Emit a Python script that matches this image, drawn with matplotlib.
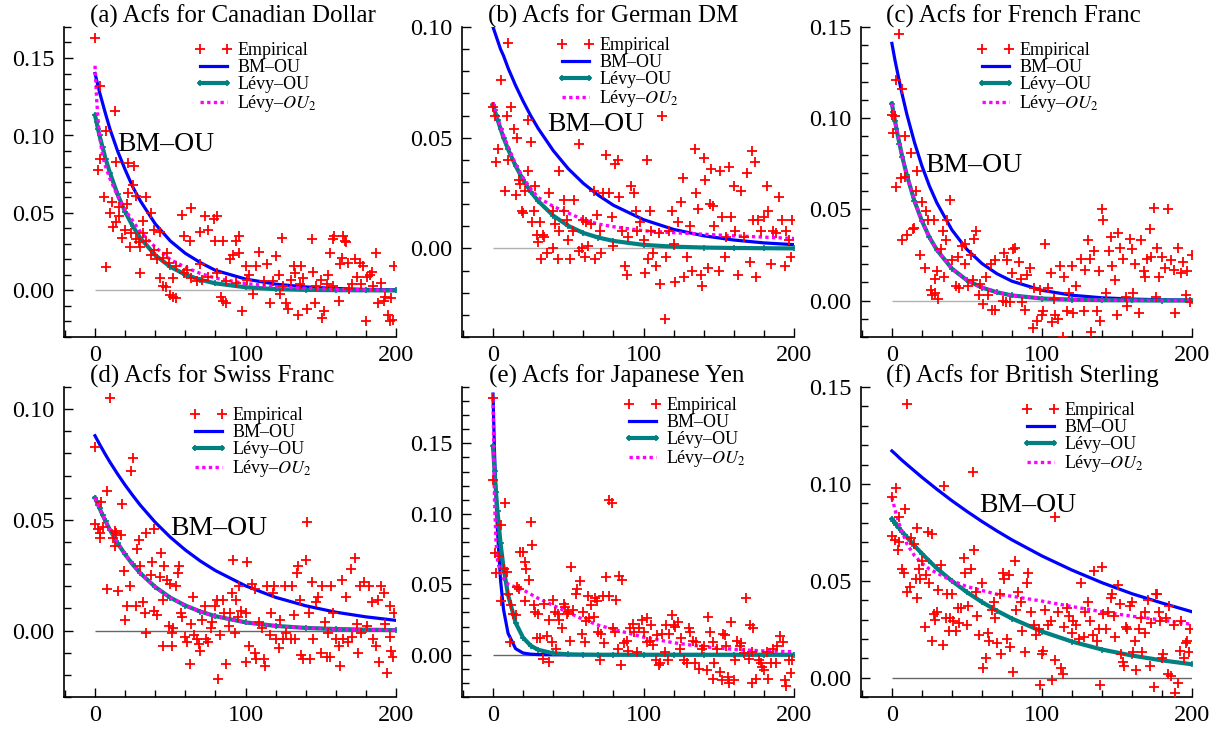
import matplotlib
matplotlib.use("Agg")
import matplotlib.pyplot as plt
from matplotlib.ticker import MultipleLocator, FormatStrFormatter

plt.rcParams["font.family"] = ["Liberation Serif", "DejaVu Serif"]
plt.rcParams["mathtext.fontset"] = "stix"

# ----------------------------
# data
# ----------------------------
TITLES = [
    "(a) Acfs for Canadian Dollar",
    "(b) Acfs for German DM",
    "(c) Acfs for French Franc",
    "(d) Acfs for Swiss Franc",
    "(e) Acfs for Japanese Yen",
    "(f) Acfs for British Sterling",
]
LEGEND_LABELS = ["Empirical", "BM\u2013OU", "L\u00e9vy\u2013OU", "L\u00e9vy\u2013$OU_2$"]

# lags at which the fitted curves were read
LAG_GRID = [0, 1, 2, 3, 5, 7, 10, 15, 20, 25, 30, 40, 50, 60, 70, 80, 100, 120, 140, 160, 180, 200]

# (a) Canadian Dollar
CAD_LAGS = [0, 3, 7, 13, 3, 2, 14, 22, 26, 25,
            22, 27, 34, 6, 11, 21, 10, 14, 12, 18,
            20, 37, 32, 39, 43, 27, 23, 30, 34, 37,
            41, 45, 48, 7, 30, 43, 45, 47, 50, 52,
            54, 52, 58, 59, 64, 63, 68, 70, 70, 73,
            75, 79, 81, 80, 85, 84, 85, 87, 90, 92,
            94, 96, 96, 98, 100, 102, 105, 107, 109, 114,
            116, 118, 120, 122, 123, 124, 127, 128, 130, 132,
            133, 135, 137, 138, 141, 144, 145, 146, 150, 151,
            152, 154, 155, 156, 158, 159, 162, 163, 164, 165,
            166, 167, 168, 171, 173, 174, 176, 177, 178, 180,
            181, 183, 184, 187, 188, 190, 192, 193, 195, 196,
            198, 199, 197,
            16, 16, 24, 29, 32, 39, 49, 54, 59, 61,
            64, 71, 75, 81, 87, 94, 101, 112, 125, 136,
            147, 158, 169, 185]
CAD_ACF = [.163, .132, .103, .116, .085, .078, .083, .082, .080, .068,
           .063, .061, .060, .060, .057, .056, .050, .044, .041, .034,
           .039, .050, .045, .039, .038, .033, .028, .028, .032, .023,
           .020, .021, .024, .015, .011, .008, .003, .002, -.003, -.004,
           -.005, .008, .049, .035, .053, .032, .006, .017, .038, .048,
           .039, .046, .048, .032, .032, -.004, -.007, -.008, .020, .023,
           .032, .035, .024, -.013, .016, .010, -.002, .016, .025, .017,
           -.008, .006, .022, .010, -.002, .034, -.008, -.012, .007, .016,
           .011, -.016, .016, .008, -.012, .033, .012, -.008, .007, -.018,
           -.013, .004, .010, .024, .033, .035, -.007, .017, .021, .035,
           .032, .031, .018, .004, .020, .009, .018, .004, .016, -.020,
           .009, .010, .012, .024, -.008, .005, -.007, -.004, -.016, -.020,
           -.019, .016, -.005,
           .054, .048, .037, .031, .037, .026, .018, .016, .011, .013,
           .008, .007, .009, .011, .006, .005, .007, .006, .003, .004,
           .003, .003, .001, .003]
CAD_BM = [.140, .136, .132, .128, .121, .114, .104, .090, .078, .067, .058,
          .043, .032, .024, .018, .013, .0074, .0041, .0023, .0013, .0007, .0004]
CAD_LEVY = [.113, .109, .104, .100, .0925, .085, .0757, .062, .0508, .0416, .034,
            .0228, .0153, .0103, .0069, .0046, .0021, .0009, .0004, .0002, .0001, 0.0]
CAD_LEVY2 = [.145, .125, .110, .100, .087, .080, .072, .061, .052, .045, .038,
             .028, .020, .015, .011, .008, .0045, .0025, .0014, .0008, .0004, .0002]

# (b) German DM
DEM_LAGS = [10, 5, 0, 1, 9, 12, 14, 16, 3, 2,
            10, 23, 25, 8, 15, 17, 18, 23, 21, 28,
            19, 20, 27, 26, 31, 29, 33, 34, 30, 32,
            36, 40, 43, 37, 44, 40, 41, 47, 47, 49,
            44, 50, 51, 54, 53, 57, 57, 59, 61, 60,
            62, 63, 65, 68, 67, 69, 71, 72, 73, 75,
            77, 79, 80, 81, 83, 84, 86, 88, 89, 90,
            92, 94, 95, 96, 98, 100, 101, 102, 103, 104,
            105, 106, 108, 110, 111, 112, 114, 115, 117, 119,
            120, 121, 123, 125, 126, 127, 129, 131, 132, 134,
            135, 136, 138, 139, 140, 141, 143, 144, 145, 146,
            147, 150, 151, 152, 154, 155, 157, 158, 160, 161,
            163, 165, 167, 169, 171, 172, 173, 174, 175, 176,
            178, 180, 182, 183, 185, 186, 188, 190, 192, 194,
            195, 197, 198, 199]
DEM_ACF = [.093, .076, .064, .060, .060, .064, .054, .050, .045, .039,
           .040, .058, .048, .026, .024, .031, .029, .035, .026, .028,
           .017, .016, .017, .012, .012, .006, .006, .005, .003, -.005,
           -.002, .000, -.005, .025, .035, .017, .011, .022, .017, .013,
           .008, .004, -.005, .022, .008, .047, -.001, .000, -.004, .013,
           .012, .001, .011, -.005, .026, .015, .008, -.002, .025, .042,
           .025, .014, .001, .038, .040, .023, .008, -.008, -.012, .005,
           .028, .025, .017, .008, .012, .004, -.011, .040, -.005, .017,
           .008, -.002, -.008, .007, -.016, .060, -.032, -.004, .008, .017,
           .002, -.015, .012, .021, .032, -.013, -.004, .010, -.010, .045,
           .025, .018, -.012, -.017, .041, .031, -.009, .020, .036, .019,
           .010, -.010, .035, .014, -.004, .005, .037, .014, .028, .008,
           -.012, .026, .005, .034, -.006, .044, .013, .039, -.013, .013,
           .008, .014, .028, .017, -.007, .008, .007, .023, .013, -.008,
           .008, .004, -.004, .013]
DEM_BM = [.100, .098, .096, .094, .090, .087, .0815, .0736, .0665, .060, .0542,
          .0442, .036, .0294, .024, .0195, .013, .0086, .0057, .0038, .0025, .0017]
DEM_LEVY = [.065, .0626, .0604, .0582, .054, .050, .0448, .0373, .031, .0257, .0214,
            .0148, .0102, .0070, .0049, .0034, .0016, .0008, .0004, .0002, .0001, 0.0]
DEM_LEVY2 = [.066, .063, .061, .059, .055, .051, .046, .038, .032, .027, .023,
             .019, .016, .013, .011, .0098, .0080, .0071, .0064, .0057, .0051, .0045]

# (c) French Franc
FRF_LAGS = [5, 3, 7, 0, 1, 2, 9, 13, 3, 6,
            9, 7, 10, 14, 15, 16, 17, 19, 20, 22,
            23, 24, 28, 26, 27, 29, 31, 29, 30, 33,
            34, 36, 37, 35, 39, 40, 43, 45, 44, 47,
            49, 49, 51, 53, 54, 55, 56, 58, 59, 61,
            63, 64, 66, 67, 69, 69, 74, 75, 76, 77,
            79, 80, 81, 82, 85, 86, 87, 89, 90, 92,
            94, 95, 97, 99, 100, 101, 102, 104, 106, 107,
            108, 109, 111, 112, 114, 115, 117, 118, 120, 121,
            123, 126, 128, 129, 131, 132, 133, 135, 137, 138,
            139, 140, 141, 143, 145, 146, 147, 149, 150, 151,
            152, 154, 156, 157, 159, 160, 161, 162, 165, 166,
            168, 169, 170, 172, 173, 175, 176, 177, 178, 180,
            182, 184, 186, 188, 189, 191, 193, 194, 196, 197,
            199, 200]
FRF_ACF = [.146, .121, .116, .102, .092, .101, .090, .081, .062, .067,
           .068, .033, .036, .039, .040, .060, .071, .025, .054, .018,
           .049, .044, .044, .006, .003, .004, .001, .012, .016, .028,
           .038, .033, .044, .013, .055, .022, .008, .007, .024, .030,
           .031, .020, .008, .025, .011, .034, .038, .003, .009, -.002,
           .013, .003, .020, -.005, -.005, .022, .000, .026, -.001, .022,
           -.001, .015, .028, .029, .021, .012, -.001, -.005, .014, .018,
           -.015, .007, -.011, .006, -.008, -.006, .031, .007, .015, -.012,
           .001, -.008, -.010, .019, -.020, .013, -.006, .004, .019, -.007,
           .008, .023, -.006, .017, .033, .023, -.017, .027, -.006, .016,
           -.011, .050, .044, .004, .027, .035, .019, .011, -.008, .037,
           .029, .023, .002, -.003, .034, .028, .004, .020, -.007, .033,
           .016, .013, .023, .039, .024, .051, .002, .029, .013, .024,
           .018, .050, .022, .017, -.007, .029, .015, .021, .003, .016,
           -.001, .025]
FRF_BM = [.141, .1365, .132, .128, .120, .1125, .102, .0868, .0738, .0628, .0535,
          .0387, .028, .0203, .0147, .0106, .0056, .0029, .0015, .0008, .0004, .0002]
FRF_LEVY = [.108, .1032, .0986, .0943, .0861, .0785, .0686, .0546, .0436, .0347, .0277,
            .0175, .0111, .0071, .0045, .0028, .0011, .0005, .0002, .0001, 0.0, 0.0]
FRF_LEVY2 = [.108, .1032, .0986, .0943, .0861, .0785, .0686, .0546, .0436, .0347, .0277,
             .0175, .0111, .0071, .0045, .0028, .0011, .0005, .0002, .0001, 0.0, 0.0]

# (d) Swiss Franc
CHF_LAGS = [0, 0, 2, 3, 3, 5, 4, 8, 10, 8,
            12, 13, 14, 13, 17, 15, 18, 19, 20, 21,
            23, 24, 25, 27, 28, 29, 30, 32, 33, 34,
            34, 37, 38, 39, 39, 41, 43, 44, 45, 45,
            46, 48, 49, 50, 51, 51, 52, 54, 55, 56,
            57, 58, 60, 61, 63, 64, 65, 66, 68, 69,
            70, 71, 73, 74, 75, 77, 78, 80, 81, 82,
            83, 85, 86, 87, 89, 90, 91, 92, 93, 94,
            95, 96, 97, 100, 100, 101, 102, 104, 106, 106,
            107, 109, 111, 112, 113, 114, 116, 117, 118, 119,
            120, 122, 123, 125, 126, 127, 130, 131, 132, 133,
            134, 135, 136, 137, 138, 140, 141, 142, 143, 144,
            145, 147, 148, 150, 151, 153, 154, 155, 156, 157,
            158, 160, 162, 163, 164, 165, 167, 168, 170, 171,
            173, 174, 175, 176, 177, 179, 181, 182, 184, 185,
            187, 188, 189, 190, 192, 193, 194, 196, 196, 197,
            198, 199]
CHF_ACF = [.083, .048, .046, .042, .044, .047, .058, .063, .105, .019,
           .042, .045, .044, .038, .043, .018, .057, .027, .005, .011,
           .020, .072, .078, .011, .037, .041, .029, .013, .008, -.001,
           .044, .025, .031, .046, .009, .007, .024, .035, .014, -.007,
           .029, .023, .002, .021, -.001, -.007, .001, .020, .026, .029,
           .008, .006, -.003, -.005, -.015, .003, .015, -.002, -.004, -.006,
           -.009, .005, .011, -.004, -.005, .001, .004, .011, .014, -.022,
           -.002, .014, .008, -.015, .002, .008, .017, .032, -.001, .014,
           .006, .020, .009, .008, -.014, .031, -.007, .021, .019, -.010,
           -.013, .004, .001, -.013, -.016, .020, -.002, .008, .017, .020,
           -.004, -.008, .005, -.004, .020, -.001, -.004, .020, .007, -.004,
           .026, .029, .014, -.011, -.013, .032, .049, .008, -.013, .022,
           -.004, .013, .015, -.010, .020, .004, -.012, -.001, -.012, .020,
           .008, -.004, -.007, -.016, .023, -.004, .015, -.005, .028, -.003,
           .033, .003, -.010, .020, -.001, .022, .002, .020, .013, -.004,
           -.007, .014, -.014, .020, .017, .003, -.019, -.003, .011, -.009,
           -.012, .008]
CHF_BM = [.088, .0867, .0855, .0842, .0818, .0794, .0760, .0707, .0657, .0611, .0567,
          .0489, .0422, .0364, .0314, .0271, .0202, .0150, .0112, .0083, .0062, .0046]
CHF_LEVY = [.060, .0584, .0568, .0553, .0522, .0494, .0454, .0395, .0344, .0299, .026,
            .0197, .0149, .0113, .0086, .0065, .0037, .0021, .0012, .0007, .0004, .0002]
CHF_LEVY2 = [.060, .0584, .0568, .0553, .0522, .0494, .0454, .0395, .0344, .0299, .026,
             .0197, .0149, .0113, .0086, .0065, .0037, .0021, .0012, .0007, .0004, .0002]

# (e) Japanese Yen
JPY_LAGS = [0, 0, 1, 2, 4, 5, 8, 5, 7, 9,
            10, 11, 12, 13, 15, 16, 17, 18, 20, 21,
            22, 24, 25, 26, 21, 27, 28, 29, 30, 31,
            33, 34, 36, 37, 37, 39, 40, 41, 42, 43,
            44, 46, 47, 48, 49, 50, 51, 52, 53, 55,
            56, 58, 59, 60, 61, 62, 63, 64, 65, 67,
            68, 69, 70, 71, 72, 73, 74, 75, 77, 77,
            79, 80, 81, 82, 83, 84, 85, 86, 87, 89,
            90, 91, 93, 94, 96, 97, 99, 100, 102, 102,
            104, 105, 106, 108, 109, 110, 111, 112, 114, 115,
            116, 117, 119, 120, 121, 123, 124, 125, 127, 129,
            130, 131, 133, 134, 135, 137, 139, 140, 142, 143,
            144, 146, 146, 147, 149, 151, 152, 153, 154, 155,
            156, 157, 158, 160, 161, 162, 164, 165, 167, 168,
            170, 171, 172, 173, 172, 175, 177, 178, 179, 180,
            182, 183, 185, 186, 188, 189, 191, 193, 194, 195,
            197, 198, 199]
JPY_ACF = [.182, .124, .072, .058, .070, .092, .108, .038, .061, .059,
           .043, .009, .035, .029, .028, .048, .047, .073, .073, .066,
           .061, .053, .094, .078, .038, .035, .030, .012, .029, .012,
           -.003, .036, .013, -.005, .025, .009, .039, .030, .004, .029,
           .025, .019, .036, .034, .029, .030, .010, .062, .032, .043,
           .047, .052, .015, .030, .009, .024, .042, .026, .035, .027,
           .040, .038, .016, -.004, .015, .042, .008, .055, .042, .110,
           .108, .019, .016, .039, .004, .056, -.007, .053, .008, .010,
           .003, .019, .022, .016, .002, .019, .025, .016, .026, .009,
           .010, .021, .007, -.004, .014, -.007, -.006, .015, .002, .021,
           -.004, .015, .028, .021, .020, .023, .004, .012, -.004, -.006,
           .019, .016, .010, -.006, .009, -.010, .004, .006, -.011, .027,
           .016, .009, -.017, -.006, .004, -.012, -.018, .015, .014, .006,
           -.016, -.020, .023, -.018, -.004, .010, .006, .008, .001, .040,
           -.003, .021, .002, .019, -.020, -.017, -.004, -.006, -.009, -.011,
           .002, -.017, -.006, .004, -.006, .006, .013, .009, -.018, -.022,
           -.004, -.013, -.004]
JPY_BM = [.185, .144, .112, .0874, .053, .0321, .0152, .0043, .0012, .0004, .0001,
          0.0, 0.0, 0.0, 0.0, 0.0, 0.0, 0.0, 0.0, 0.0, 0.0, 0.0]
JPY_LEVY = [.148, .1306, .1153, .1017, .0792, .0617, .0424, .0227, .0121, .0065, .0035,
            .0010, .0003, .0001, 0.0, 0.0, 0.0, 0.0, 0.0, 0.0, 0.0, 0.0]
JPY_LEVY2 = [.182, .110, .080, .067, .058, .054, .050, .048, .046, .043, .040,
             .035, .030, .025, .021, .018, .0125, .0085, .0057, .0038, .0027, .0021]

# (f) British Sterling
GBP_LAGS = [10, 0, 3, 0, 2, 4, 5, 5, 9, 7,
            8, 10, 12, 13, 15, 16, 17, 17, 18, 19,
            20, 22, 23, 24, 25, 27, 27, 28, 29, 30,
            31, 33, 34, 35, 36, 37, 38, 39, 40, 41,
            43, 44, 45, 46, 48, 49, 50, 51, 53, 54,
            55, 56, 57, 58, 60, 61, 63, 64, 65, 67,
            68, 69, 70, 72, 73, 74, 75, 77, 78, 79,
            81, 82, 83, 84, 86, 87, 89, 90, 91, 93,
            95, 96, 98, 99, 100, 101, 102, 104, 106, 107,
            109, 109, 111, 113, 114, 115, 117, 118, 120, 121,
            123, 125, 126, 128, 129, 131, 132, 134, 135, 137,
            138, 139, 140, 141, 143, 144, 146, 147, 148, 149,
            151, 152, 153, 154, 155, 156, 157, 159, 160, 161,
            162, 163, 165, 166, 167, 169, 169, 171, 172, 173,
            175, 176, 177, 178, 179, 180, 181, 183, 184, 185,
            186, 188, 189, 191, 192, 193, 195, 196, 197, 198,
            199]
GBP_ACF = [.141, .093, .098, .073, .071, .066, .070, .083, .087, .056,
           .054, .044, .047, .072, .069, .051, .041, .077, .056, .051,
           .060, .026, .053, .075, .049, .019, .074, .033, .030, .034,
           .045, .058, .017, .099, .031, .043, .024, .031, .043, .029,
           .024, .036, .028, .036, .062, .054, .027, .037, .056, .106,
           .066, .044, .032, .022, .049, .005, .010, .023, .019, .035,
           .039, .031, .018, .043, .012, .054, .051, .020, .053, .016,
           .003, .060, .035, .044, .039, .024, .013, .049, .054, .034,
           .027, .022, .025, -.004, .012, .014, .035, .027, .029, -.001,
           .009, .083, .034, .005, .002, .026, .036, .032, .023, .029,
           .027, .020, .049, .021, .034, .039, .029, .022, .055, .019,
           .025, -.004, .057, .033, .025, .034, .041, .043, .032, .021,
           .048, .038, .012, .008, .006, .026, .025, .037, .039, .013,
           .019, .004, .025, .031, .013, .023, .034, .040, .006, .028,
           -.005, .043, .043, .034, .029, .010, .012, .031, .002, .037,
           .001, .027, -.008, -.003, .014, .029, .010, .018, .019, .013,
           .025]
GBP_BM = [.117, .1163, .1156, .1149, .1134, .112, .110, .1067, .1034, .1003, .0972,
          .0913, .0858, .0806, .0757, .0711, .0628, .0555, .049, .0433, .0385, .034]
GBP_LEVY = [.082, .081, .080, .079, .077, .075, .0726, .0681, .064, .0601, .0564,
            .0499, .0441, .039, .0345, .0305, .0238, .0186, .0145, .0114, .0089, .0069]
GBP_LEVY2 = [.093, .090, .087, .084, .079, .075, .069, .063, .059, .056, .054,
             .050, .047, .045, .043, .042, .0395, .0367, .034, .0317, .0297, .0275]

# ----------------------------
# layout / style
# ----------------------------
W, H = 1221, 730
# axes boxes in pixels: left, top, right, bottom
AX_PX = [
    (64, 27, 396, 337), (462, 27, 794, 337), (861, 27, 1192, 337),
    (64, 387, 396, 697), (462, 387, 794, 697), (861, 387, 1192, 697),
]
YLIMS = [(-0.03, 0.17), (-0.04, 0.10), (-0.02, 0.15),
         (-0.03, 0.11), (-0.03, 0.19), (-0.01, 0.15)]
TITLE_PX = [(233, 23), (613, 23), (1013, 23), (212, 383), (617, 383), (1022, 383)]
LEGEND_PX = [(195, 42), (557, 37), (977, 42), (190, 407), (624, 397), (1022, 402)]
# where the "BM-OU" note sits (data coords), None = no note
NOTE_XY = [(15, 0.094), (36, 0.056), (22, 0.074), (50, 0.046), None, (58, 0.089)]
ZERO_COLOR = ["#b0b0b0", "#b0b0b0", "#b0b0b0", "#666666", "#666666", "#666666"]

C_EMP = "#ff0000"
C_BM = "#0000ff"
C_LEVY = "#008080"
C_LEVY2 = "#ff00ff"


def draw_panel(ax, lags, acf, bm, levy, levy2, ylim, zero_color, note_xy):
    ax.hlines(0.0, LAG_GRID[0], LAG_GRID[-1], color=zero_color, lw=1.0, zorder=1)
    ax.plot(lags, acf, ls="none", marker="+", ms=7, mew=1.3, color=C_EMP,
            label=LEGEND_LABELS[0], zorder=4)
    ax.plot(LAG_GRID, bm, color=C_BM, lw=2.3, label=LEGEND_LABELS[1], zorder=2)
    ax.plot(LAG_GRID, levy, color=C_LEVY, lw=3.0, marker="+", ms=4, mew=1.2,
            label=LEGEND_LABELS[2], zorder=2)
    ax.plot(LAG_GRID, levy2, color=C_LEVY2, lw=2.4, ls=(0, (1, 1)),
            label=LEGEND_LABELS[3], zorder=3)

    ax.set_xlim(-20.6, 200)
    ax.set_ylim(*ylim)
    ax.xaxis.set_major_locator(MultipleLocator(100))
    ax.xaxis.set_minor_locator(MultipleLocator(20))
    ax.yaxis.set_major_locator(MultipleLocator(0.05))
    ax.yaxis.set_minor_locator(MultipleLocator(0.01))
    ax.yaxis.set_major_formatter(FormatStrFormatter("%.2f"))

    for side in ("top", "right"):
        ax.spines[side].set_visible(False)
    for side in ("left", "bottom"):
        ax.spines[side].set_linewidth(1.2)
    ax.tick_params(which="both", direction="in", labelsize=17.5, width=1.0,
                   top=False, right=False)
    ax.tick_params(which="major", length=6.5)
    ax.tick_params(which="minor", length=5)
    ax.tick_params(axis="y", which="major", pad=7)
    ax.tick_params(axis="x", which="major", pad=5.5)

    if note_xy is not None:
        ax.text(note_xy[0], note_xy[1], "BM\u2013OU", fontsize=20,
                ha="left", va="center", zorder=5)


fig = plt.figure(figsize=(W / 100, H / 100), dpi=100)

panels = [
    (CAD_LAGS, CAD_ACF, CAD_BM, CAD_LEVY, CAD_LEVY2),
    (DEM_LAGS, DEM_ACF, DEM_BM, DEM_LEVY, DEM_LEVY2),
    (FRF_LAGS, FRF_ACF, FRF_BM, FRF_LEVY, FRF_LEVY2),
    (CHF_LAGS, CHF_ACF, CHF_BM, CHF_LEVY, CHF_LEVY2),
    (JPY_LAGS, JPY_ACF, JPY_BM, JPY_LEVY, JPY_LEVY2),
    (GBP_LAGS, GBP_ACF, GBP_BM, GBP_LEVY, GBP_LEVY2),
]

for i, (lags, acf, bm, levy, levy2) in enumerate(panels):
    assert len(lags) == len(acf)
    l, t, r, b = AX_PX[i]
    ax = fig.add_axes([l / W, 1 - b / H, (r - l) / W, (b - t) / H])
    draw_panel(ax, lags, acf, bm, levy, levy2, YLIMS[i], ZERO_COLOR[i], NOTE_XY[i])

    tx, ty = TITLE_PX[i]
    fig.text(tx / W, 1 - ty / H, TITLES[i], fontsize=18, ha="center", va="baseline")

    lx, ly = LEGEND_PX[i]
    ax.legend(loc="upper left", bbox_to_anchor=(lx / W, 1 - ly / H),
              bbox_transform=fig.transFigure, frameon=False, fontsize=13,
              numpoints=2, handlelength=2.05, handletextpad=0.3,
              labelspacing=0.0, borderpad=0.0, borderaxespad=0.0)

fig.savefig("out.png", dpi=100)
